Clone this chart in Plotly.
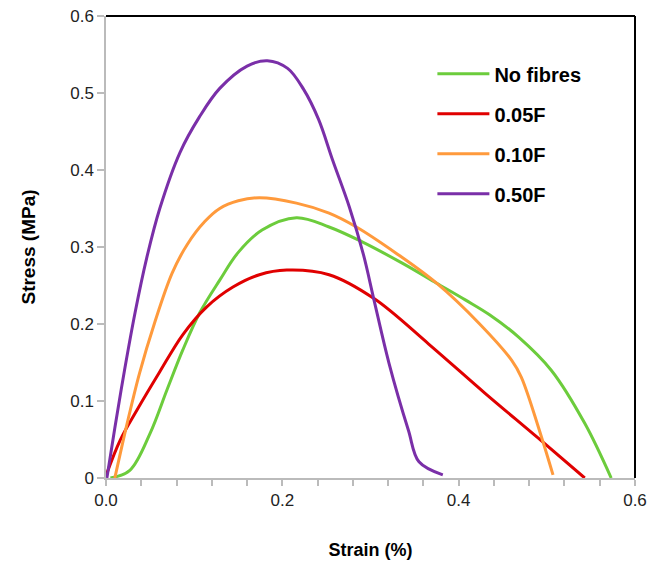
import plotly.graph_objects as go

series_names = ["No fibres", "0.05F", "0.10F", "0.50F"]
series_colors = ["#6ccc3c", "#e00000", "#ff9a3c", "#7a2fa8"]

strain_nofibres = [0.005, 0.027, 0.05, 0.069, 0.087, 0.106, 0.129, 0.150, 0.177, 0.216, 0.253, 0.29, 0.336, 0.375, 0.408, 0.435, 0.468, 0.505, 0.543, 0.573]
stress_nofibres = [0.0, 0.010, 0.058, 0.114, 0.166, 0.214, 0.257, 0.293, 0.322, 0.338, 0.326, 0.307, 0.279, 0.253, 0.231, 0.212, 0.183, 0.14, 0.071, 0.0]

strain_005 = [0.0, 0.016, 0.035, 0.061, 0.087, 0.114, 0.144, 0.174, 0.205, 0.253, 0.304, 0.366, 0.43, 0.49, 0.543]
stress_005 = [0.003, 0.049, 0.088, 0.138, 0.186, 0.222, 0.248, 0.264, 0.270, 0.264, 0.233, 0.174, 0.110, 0.052, 0.0]

strain_010 = [0.010, 0.024, 0.038, 0.055, 0.075, 0.092, 0.112, 0.129, 0.150, 0.174, 0.216, 0.253, 0.284, 0.329, 0.375, 0.423, 0.46, 0.471, 0.494, 0.507]
stress_010 = [0.0, 0.071, 0.136, 0.201, 0.266, 0.303, 0.333, 0.350, 0.360, 0.364, 0.357, 0.344, 0.326, 0.292, 0.253, 0.201, 0.153, 0.131, 0.053, 0.004]

strain_050 = [0.001, 0.010, 0.021, 0.033, 0.046, 0.061, 0.084, 0.106, 0.129, 0.160, 0.183, 0.206, 0.224, 0.241, 0.257, 0.276, 0.292, 0.304, 0.321, 0.343, 0.355, 0.382]
stress_050 = [0.0, 0.065, 0.140, 0.215, 0.285, 0.350, 0.423, 0.469, 0.506, 0.535, 0.542, 0.532, 0.505, 0.466, 0.413, 0.352, 0.290, 0.231, 0.149, 0.062, 0.021, 0.004]

x_tick_vals = [0.0, 0.04, 0.08, 0.12, 0.16, 0.2, 0.24, 0.28, 0.32, 0.36, 0.4, 0.44, 0.48, 0.52, 0.56, 0.6]
x_tick_text = ["0.0", "", "", "", "", "0.2", "", "", "", "", "0.4", "", "", "", "", "0.6"]
y_tick_vals = [0, 0.1, 0.2, 0.3, 0.4, 0.5, 0.6]
y_tick_text = ["0", "0.1", "0.2", "0.3", "0.4", "0.5", "0.6"]

xs = [strain_nofibres, strain_005, strain_010, strain_050]
ys = [stress_nofibres, stress_005, stress_010, stress_050]

fig = go.Figure()
for i, name in enumerate(series_names):
    fig.add_trace(go.Scatter(
        x=xs[i], y=ys[i], mode="lines", name=name, legendgroup=name,
        line=dict(color=series_colors[i], width=3, shape="spline", smoothing=1.0),
    ))

fam = "Liberation Sans, Arial, sans-serif"
axis_font = dict(family=fam, size=17, color="#222")
fig.update_layout(
    width=652, height=564,
    margin=dict(l=106, r=17, t=16, b=86),
    plot_bgcolor="white", paper_bgcolor="white",
    showlegend=True,
    legend=dict(
        x=0.617, y=0.917, xanchor="left", yanchor="top",
        font=dict(family=fam, size=20, color="black", weight="bold"),
        tracegroupgap=11, bgcolor="rgba(0,0,0,0)", itemwidth=52,
    ),
    xaxis=dict(
        range=[0, 0.6], tickmode="array", tickvals=x_tick_vals, ticktext=x_tick_text,
        ticks="outside", ticklen=6, tickcolor="#bbb", tickwidth=1.5,
        showline=True, linecolor="#bbb", linewidth=1.5, showgrid=False, zeroline=False,
        tickfont=axis_font, automargin=False,
        title=dict(text="Strain (%)", font=dict(family=fam, size=18, color="black", weight="bold"), standoff=34),
    ),
    yaxis=dict(
        range=[0, 0.6], tickmode="array", tickvals=y_tick_vals, ticktext=y_tick_text,
        ticks="outside", ticklen=7, tickcolor="#bbb", tickwidth=1.5,
        showline=True, linecolor="#bbb", linewidth=1.5, showgrid=False, zeroline=False,
        tickfont=axis_font, automargin=False,
        title=dict(text="Stress (MPa)", font=dict(family=fam, size=19, color="black", weight="bold"), standoff=30),
    ),
    shapes=[
        dict(type="line", xref="paper", yref="paper", x0=0, x1=1, y0=1, y1=1, line=dict(color="black", width=2)),
        dict(type="line", xref="paper", yref="paper", x0=1, x1=1, y0=0, y1=1, line=dict(color="black", width=2)),
    ],
)

fig.write_html("out.html", config={"displayModeBar": False},
               post_script="document.body.style.margin='0';document.body.style.overflow='hidden';")
